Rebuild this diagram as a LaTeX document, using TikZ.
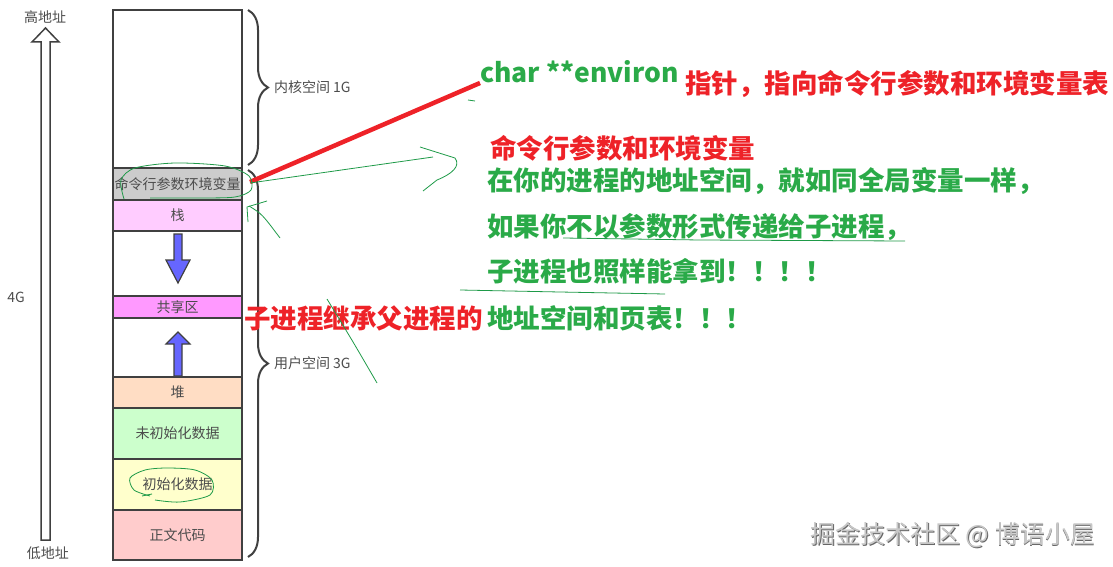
\documentclass[tikz,border=0pt]{standalone}
\usepackage{fontspec}
\setmainfont{Noto Sans CJK SC}
\usetikzlibrary{positioning,decorations.pathreplacing}

\definecolor{edge}{HTML}{404040}
\definecolor{ink}{HTML}{4C4C4C}
\definecolor{grn}{HTML}{2AAA48}
\definecolor{rd}{HTML}{EE2228}
\definecolor{hand}{HTML}{1E9A48}
\definecolor{fatblue}{HTML}{6666FF}
\definecolor{cmdgray}{HTML}{CCCCCC}
\definecolor{stkpink}{HTML}{FFCCFF}
\definecolor{shrpink}{HTML}{FF99FF}
\definecolor{heappeach}{HTML}{FFDDC4}
\definecolor{bssgreen}{HTML}{CCFFCC}
\definecolor{datyellow}{HTML}{FFFFCC}
\definecolor{txtred}{HTML}{FFCCCC}

\begin{document}
\begin{tikzpicture}[x=1pt,y=-1pt,
  seg/.style={draw=edge,line width=1.6pt,minimum width=129pt,inner sep=0pt,outer sep=0pt,
    font=\fontsize{14}{14}\selectfont,text=ink},
  lbl/.style={inner sep=0pt,font=\fontsize{14}{14}\selectfont,text=ink},
  note/.style={inner sep=0pt,anchor=west,font=\fontsize{26.5}{26.5}\selectfont\bfseries},
  brc/.style={draw=edge,line width=2pt,decorate,decoration={brace,amplitude=20pt}},
  hand/.style={draw=hand,line width=0.8pt},
  fat/.style={draw=edge,line width=1.2pt,fill=fatblue,line join=miter}]
\useasboundingbox (0,0) rectangle (1113,567);

% memory layout, top to bottom
\node[seg,minimum height=158pt] (kern) at (177.5,89) {};
\node[seg,minimum height=32pt,fill=cmdgray,below=0pt of kern] (cmd) {命令行参数环境变量};
\node[seg,minimum height=31pt,fill=stkpink,below=0pt of cmd] (stk) {栈};
\node[seg,minimum height=65pt,below=0pt of stk] (gapa) {};
\node[seg,minimum height=22pt,fill=shrpink,below=0pt of gapa] (shr) {共享区};
\node[seg,minimum height=59pt,below=0pt of shr] (gapb) {};
\node[seg,minimum height=31pt,fill=heappeach,below=0pt of gapb] (heap) {堆};
\node[seg,minimum height=51pt,fill=bssgreen,below=0pt of heap] (bss) {未初始化数据};
\node[seg,minimum height=51pt,fill=datyellow,below=0pt of bss] (dat) {初始化数据};
\node[seg,minimum height=50pt,fill=txtred,below=0pt of dat] (txt) {正文代码};

% growth arrows
\draw[fat] (174,234) -- (182,234) -- (182,260) -- (190,260) -- (178,283) -- (166,260) -- (174,260) -- cycle;
\draw[fat] (174,376) -- (174,344) -- (166,344) -- (178,332) -- (190,344) -- (182,344) -- (182,376) -- cycle;

% address axis
\node[lbl] (hi) at (45,17) {高地址};
\node[lbl] (lo) at (48,553) {低地址};
\node[lbl] (four) at (16,297) {4G};
\draw[edge,line width=1.5pt,line join=miter] (41,540) -- (41,42) -- (32,42) -- (45.5,28) -- (59,42) -- (50,42) -- (50,540) -- cycle;

% braces
\draw[brc] ([xshift=6pt]kern.north east) -- ([xshift=6pt,yshift=3pt]kern.south east)
  node[lbl,midway,anchor=west,xshift=25pt] (kname) {内核空间 1G};
\draw[brc] ([xshift=6pt,yshift=-2pt]cmd.north east) -- ([xshift=6pt,yshift=3pt]txt.south east)
  node[lbl,midway,anchor=west,xshift=25pt] (uname) {用户空间 3G};

% notes
\node[note,text=grn,anchor=base west] (env) at (480,83) {char **environ};
\node[note,text=rd] (ptr) at (685,84) {指针，指向命令行参数和环境变量表};
\node[note,text=rd] (argv) at (490,148) {命令行参数和环境变量};
\node[note,text=grn] (ln1) at (487,181) {在你的进程的地址空间，就如同全局变量一样，};
\node[note,text=grn] (ln2) at (487,227) {如果你不以参数形式传递给子进程，};
\node[note,text=grn] (ln3) at (487,271) {子进程也照样能拿到！！！！};
\node[note,text=rd] (inh) at (244,318) {子进程继承父进程的};
\node[note,text=grn] (ln4) at (487,318) {地址空间和页表！！！};

\draw[rd,line width=4.5pt] ([xshift=8pt,yshift=2pt]cmd.east) -- (env.base west);

% hand marks
\draw[hand] plot[smooth] coordinates {(124,199) (121,180) (135,168) (175,163) (225,166) (249,176) (251,190) (235,197) (200,198) (150,198)};
\draw[hand] (250,183) -- (433,157);
\draw[hand] (420,147) -- (455,158) .. controls (461,166) and (452,174) .. (437,180) -- (423,191);
\draw[hand] (267,201) -- (247,207) -- (248,222);
\draw[hand] (249,206) .. controls (262,214) .. (280,238);
\draw[hand] (327,299) .. controls (352,340) .. (377,383);
\draw[hand] (563,238) -- (700,240) -- (905,241);
\draw[hand] (460,290) -- (560,292) -- (665,294);
\draw[hand] (468,100) -- (475,101);
\draw[hand] plot[smooth] coordinates {(150,496) (134,490) (130,478) (145,470) (167,468) (195,470) (212,480) (210,495) (180,502) (155,500)};
\draw[hand] (142,496) -- (152,494);

% watermark
\node[inner sep=0pt,anchor=west,font=\fontsize{25}{25}\selectfont,text=black!60] (wmsh) at (810.8,535.8) {掘金技术社区 @ 博语小屋};
\node[inner sep=0pt,anchor=west,font=\fontsize{25}{25}\selectfont,text=black!22] (wm) at (810,535) {掘金技术社区 @ 博语小屋};
\end{tikzpicture}
\end{document}
